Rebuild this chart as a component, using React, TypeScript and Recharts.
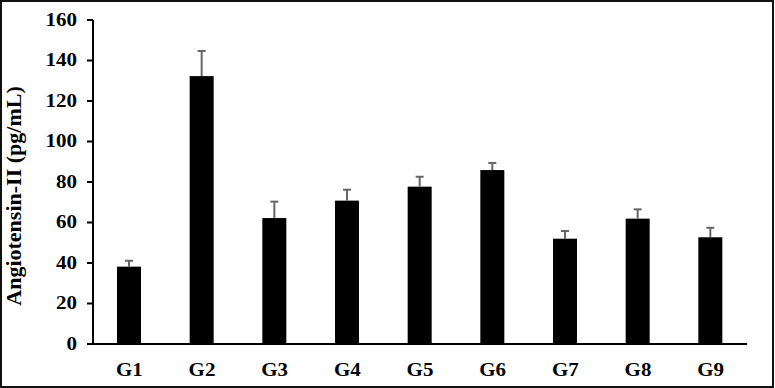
import { BarChart, Bar, XAxis, YAxis } from 'recharts';

const groups = ['G1', 'G2', 'G3', 'G4', 'G5', 'G6', 'G7', 'G8', 'G9'];
const means = [38.2, 132.3, 62.2, 70.8, 77.7, 85.9, 52, 61.9, 52.7];
const errs = [2.9, 12.4, 8.1, 5.4, 4.9, 3.5, 3.8, 4.6, 4.7];
const yTicks = [0, 20, 40, 60, 80, 100, 120, 140, 160];

const data = groups.map((g, i) => ({ group: g, value: means[i], err: errs[i] }));

const textStyle = {
  fontFamily: "'Liberation Serif', 'Times New Roman', serif",
  fontWeight: 700,
  fill: '#000',
};

// bar with an upward-only error whisker, scaled from the bar's own height
const BarWithError = (props: any) => {
  const { x, y, width, height, payload } = props;
  const pxPerUnit = height / payload.value;
  const top = y - payload.err * pxPerUnit;
  const cx = x + width / 2;
  return (
    <g>
      <rect x={x} y={y} width={width} height={height} fill="#000" />
      <line x1={cx} y1={y} x2={cx} y2={top} stroke="#666" strokeWidth={2} />
      <line x1={cx - 4} y1={top} x2={cx + 4} y2={top} stroke="#666" strokeWidth={2} />
    </g>
  );
};

// the original's text is a bit squashed vertically
const YTick = (props: any) => {
  const { x, y, payload } = props;
  return (
    <text
      transform={`translate(${x - 2}, ${y}) scale(1, 0.85)`}
      textAnchor="end"
      dominantBaseline="central"
      style={{ ...textStyle, fontSize: 21 }}
    >
      {payload.value}
    </text>
  );
};

const XTick = (props: any) => {
  const { x, y, payload } = props;
  return (
    <text
      transform={`translate(${x}, ${y + 19}) scale(1, 0.9)`}
      textAnchor="middle"
      dominantBaseline="central"
      style={{ ...textStyle, fontSize: 21 }}
    >
      {payload.value}
    </text>
  );
};

export default function App() {
  return (
    <div
      style={{
        position: 'fixed',
        top: 0,
        left: 0,
        width: 774,
        height: 388,
        boxSizing: 'border-box',
        border: '2px solid #111',
        background: '#fff',
      }}
    >
      <div style={{ position: 'absolute', top: -2, left: -2 }}>
        <BarChart
          width={775}
          height={388}
          data={data}
          margin={{ top: 20, right: 28, bottom: 0, left: 0 }}
        >
          <XAxis
            dataKey="group"
            height={44}
            tickLine={false}
            axisLine={{ stroke: '#000', strokeWidth: 2 }}
            tick={XTick}
            tickMargin={0}
          />
          <YAxis
            width={93}
            domain={[0, 160]}
            ticks={yTicks}
            interval={0}
            tickSize={6}
            tickLine={{ stroke: '#000', strokeWidth: 2 }}
            axisLine={{ stroke: '#000', strokeWidth: 2 }}
            tick={YTick}
            tickMargin={8}
            label={{
              content: () => (
                <text
                  x={13}
                  y={196}
                  transform="rotate(-90, 13, 196)"
                  textAnchor="middle"
                  dominantBaseline="central"
                  style={{ ...textStyle, fontSize: 22 }}
                >
                  Angiotensin-II (pg/mL)
                </text>
              ),
            }}
          />
          <Bar dataKey="value" barSize={24} shape={BarWithError} isAnimationActive={false} />
        </BarChart>
      </div>
    </div>
  );
}
